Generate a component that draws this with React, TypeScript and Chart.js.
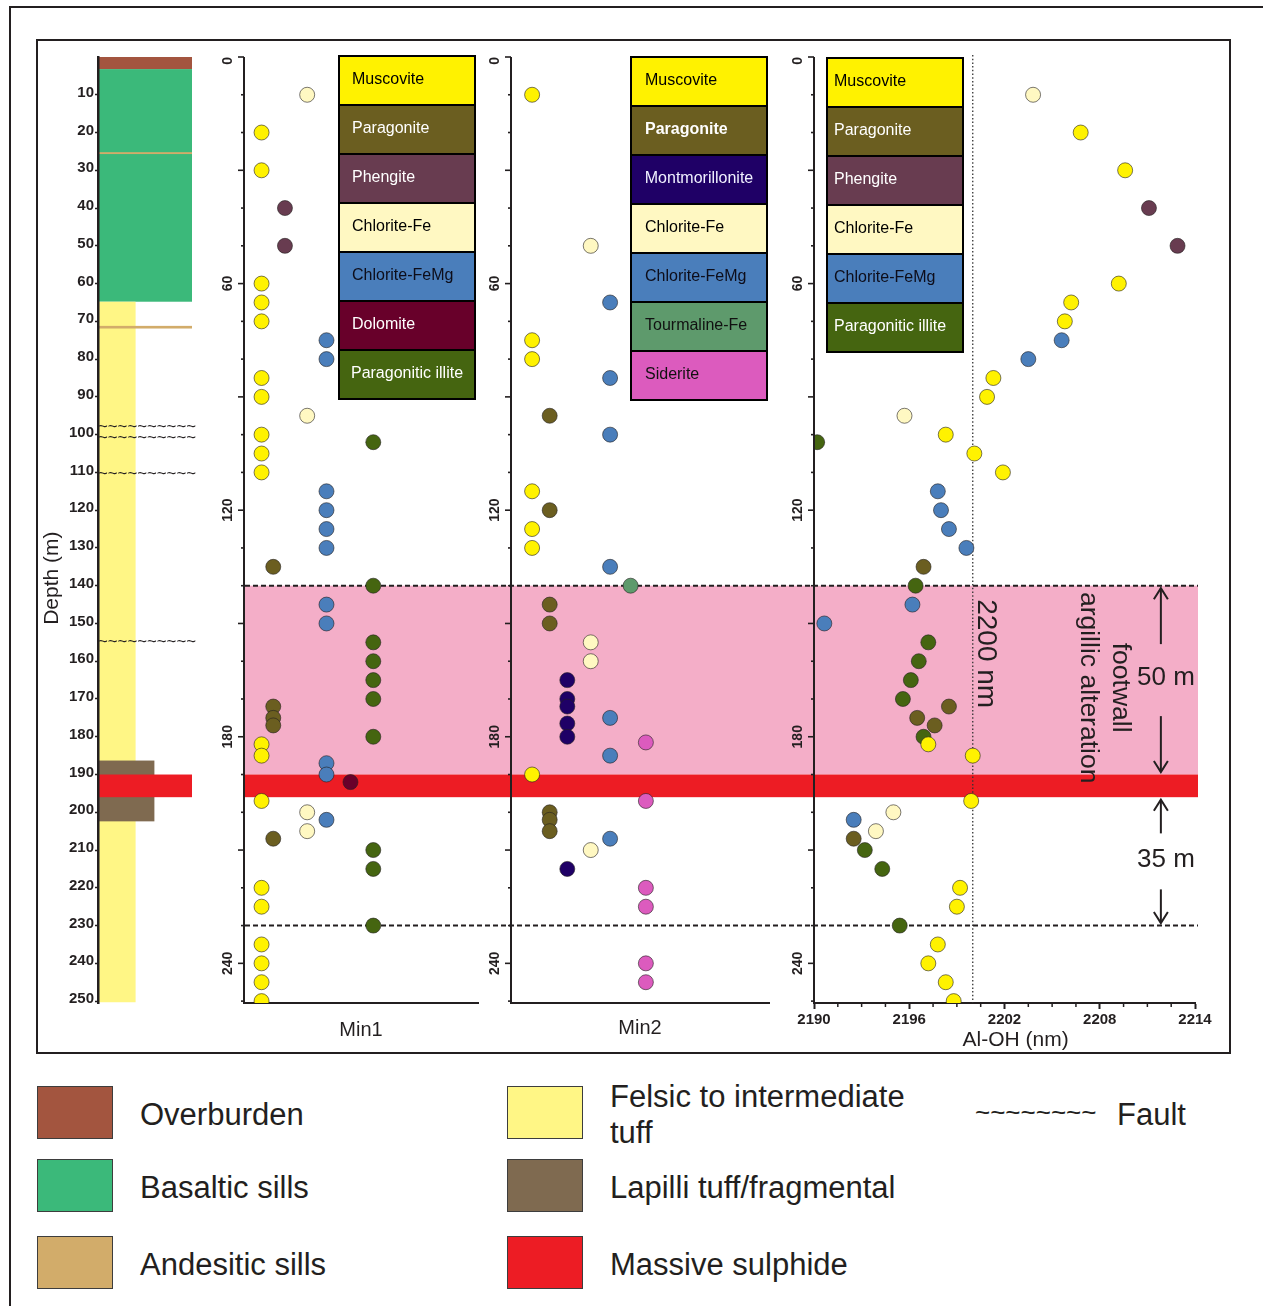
import React, { useEffect, useRef } from 'react';
import { Chart, registerables } from 'chart.js';

Chart.register(...registerables);

const INK = '#231f20';
const FONT = '"Liberation Sans", Arial, Helvetica, sans-serif';

// Depth axis (m), shared by the log and the three panels
const depthMin = 0;
const depthMax = 250.5;

// Lithological log intervals [top, bottom] in metres
const overburden = [0, 3.2];
const basalticSills = [3.2, 64.8];
const andesiticSills = [[25.2, 25.7], [71.2, 71.9]];
const felsicTuff = [64.8, 250.3];
const lapilliTuff = [186.3, 202.4];
const massiveSulphide = [190, 196];
const faults = [98, 101, 110.5, 155];

// Footwall argillic alteration zone and its limits (m)
const alterationZone = [140, 190];
const zoneBoundaries = [140, 230];
const thicknessSpans = [[140, 190], [196, 230]];
const thicknessLabels = ['50 m', '35 m'];

// Lithology key
const lithologyLabels = ['Overburden', 'Basaltic sills', 'Andesitic sills', 'Felsic to intermediate tuff', 'Lapilli tuff/fragmental', 'Massive sulphide'];
const lithologyColors = ['#a3553f', '#3bb97a', '#d2ac6a', '#fff685', '#7f6a50', '#ed1c24'];

const ZONE_PINK = '#f4aec8';
const SULPHIDE_RED = '#ed1c24';

// Mineral colours
const MINERAL_COLORS: Record<string, string> = {
  Muscovite: '#fff200',
  Paragonite: '#6b5e20',
  Phengite: '#683c50',
  'Chlorite-Fe': '#fff8c2',
  'Chlorite-FeMg': '#4a7ebb',
  Dolomite: '#68002a',
  'Paragonitic illite': '#456510',
  Montmorillonite: '#1f0066',
  'Tourmaline-Fe': '#5e9a6c',
  Siderite: '#dc5bbe',
};
const KEY_TEXT: Record<string, string> = {
  Muscovite: '#000',
  Paragonite: '#fff',
  Phengite: '#fff',
  'Chlorite-Fe': '#000',
  'Chlorite-FeMg': '#0d0d1a',
  Dolomite: '#fff',
  'Paragonitic illite': '#fff',
  Montmorillonite: '#f0f0ff',
  'Tourmaline-Fe': '#111',
  Siderite: '#111',
};

// ---- Min1: sample depths (m) per dominant mineral ----
const min1Minerals = ['Muscovite', 'Paragonite', 'Phengite', 'Chlorite-Fe', 'Chlorite-FeMg', 'Dolomite', 'Paragonitic illite'];
const min1Columns = [1.5, 2.5, 3.5, 5.4, 7.05, 9.1, 11.05];
const min1Muscovite = [20, 30, 60, 65, 70, 85, 90, 100, 105, 110, 182, 185, 197, 220, 225, 235, 240, 245, 250];
const min1Paragonite = [135, 172, 175, 177, 207];
const min1Phengite = [40, 50];
const min1ChloriteFe = [10, 95, 200, 205];
const min1ChloriteFeMg = [75, 80, 115, 120, 125, 130, 145, 150, 187, 190, 202];
const min1Dolomite = [192];
const min1ParagoniticIllite = [102, 140, 155, 160, 165, 170, 180, 210, 215, 230];

// ---- Min2: sample depths (m) per secondary mineral ----
const min2Minerals = ['Muscovite', 'Paragonite', 'Montmorillonite', 'Chlorite-Fe', 'Chlorite-FeMg', 'Tourmaline-Fe', 'Siderite'];
const min2Columns = [1.8, 3.3, 4.8, 6.8, 8.45, 10.2, 11.5];
const min2Muscovite = [10, 75, 80, 115, 125, 130, 190];
const min2Paragonite = [95, 120, 145, 150, 200, 202, 205];
const min2Montmorillonite = [165, 170, 172, 176.5, 180, 215];
const min2ChloriteFe = [50, 155, 160, 210];
const min2ChloriteFeMg = [65, 85, 100, 135, 175, 185, 207];
const min2TourmalineFe = [140];
const min2Siderite = [181.5, 197, 220, 225, 240, 245];

// ---- Al-OH absorption wavelength: [depth (m), wavelength (nm)] ----
const alohMinerals = ['Muscovite', 'Paragonite', 'Phengite', 'Chlorite-Fe', 'Chlorite-FeMg', 'Paragonitic illite'];
const alohMuscovite = [[20, 2206.8], [30, 2209.6], [60, 2209.2], [65, 2206.2], [70, 2205.8], [85, 2201.3], [90, 2200.9], [100, 2198.3], [105, 2200.1], [110, 2201.9], [182, 2197.2], [185, 2200.0], [197, 2199.9], [220, 2199.2], [225, 2199.0], [235, 2197.8], [240, 2197.2], [245, 2198.3], [250, 2198.8]];
const alohParagonite = [[135, 2196.9], [172, 2198.5], [175, 2196.5], [177, 2197.6], [207, 2192.5]];
const alohPhengite = [[40, 2211.1], [50, 2212.9]];
const alohChloriteFe = [[10, 2203.8], [95, 2195.7], [200, 2195.0], [205, 2193.9]];
const alohChloriteFeMg = [[75, 2205.6], [80, 2203.5], [115, 2197.8], [120, 2198.0], [125, 2198.5], [130, 2199.6], [145, 2196.2], [150, 2190.65], [202, 2192.5]];
const alohParagoniticIllite = [[102, 2190.2], [140, 2196.4], [155, 2197.2], [160, 2196.6], [165, 2196.1], [170, 2195.6], [180, 2196.9], [210, 2193.2], [215, 2194.3], [230, 2195.4]];
const alohMin = 2190;
const alohMax = 2214;
const alohLabelStep = 6;
const alohMinorStep = 1.5;
const alohTitle = 'Al-OH (nm)';
const referenceWavelength = 2200;
const referenceLabel = '2200 nm';
const zoneTitle = ['footwall', 'argillic alteration'];

const commonOptions = () => ({
  responsive: false,
  animation: false,
  devicePixelRatio: 1,
  events: [] as any[],
  plugins: { legend: { display: false }, tooltip: { enabled: false } },
});

const depthScale = () => ({ type: 'linear', reverse: true, min: depthMin, max: depthMax, display: false });

function pointSets(names: string[], points: { x: number; y: number }[][]) {
  return names.map((name, i) => ({
    label: name,
    data: points[i],
    pointRadius: 7.5,
    pointHoverRadius: 7.5,
    pointBorderWidth: 1,
    pointBackgroundColor: MINERAL_COLORS[name],
    pointBorderColor: 'rgba(35,31,32,0.6)',
    order: name === 'Muscovite' ? 0 : name === 'Paragonitic illite' ? 1 : 2,
  }));
}

function drawRotated(ctx: CanvasRenderingContext2D, text: string, x: number, y: number, angle: number, font: string) {
  ctx.save();
  ctx.translate(x, y);
  ctx.rotate(angle);
  ctx.font = font;
  ctx.textAlign = 'center';
  ctx.textBaseline = 'middle';
  ctx.fillText(text, 0, 0);
  ctx.restore();
}

// Depth axis of each panel: line, 10 m ticks (longer every 30 m), rotated labels every 60 m
function depthAxisPlugin() {
  return {
    id: 'depthAxis',
    afterDraw(chart: any) {
      const { ctx, chartArea: a } = chart;
      const y = chart.scales.y;
      ctx.save();
      ctx.strokeStyle = INK;
      ctx.lineWidth = 2;
      ctx.beginPath();
      ctx.moveTo(a.left, a.top);
      ctx.lineTo(a.left, a.bottom + 1);
      ctx.stroke();
      ctx.lineWidth = 1.6;
      for (let d = depthMin; d <= depthMax; d += 10) {
        const py = y.getPixelForValue(d);
        const len = d % 30 === 0 ? 6 : 3;
        ctx.beginPath();
        ctx.moveTo(a.left - len, py);
        ctx.lineTo(a.left, py);
        ctx.stroke();
      }
      ctx.fillStyle = INK;
      const font = `bold 14px ${FONT}`;
      ctx.font = font;
      for (let d = depthMin; d <= depthMax; d += 60) {
        const label = String(d);
        const half = ctx.measureText(label).width / 2;
        const py = Math.max(y.getPixelForValue(d), a.top + half);
        drawRotated(ctx, label, a.left - 16, py, -Math.PI / 2, font);
      }
      ctx.restore();
    },
  };
}

// Colour key boxed inside a panel
function keyPlugin(items: string[], dx: number, dy: number, inset: number, boldItems: string[] = []) {
  const width = 136;
  const rowH = 49;
  return {
    id: 'mineralKey',
    afterDraw(chart: any) {
      const { ctx, chartArea: a } = chart;
      const x0 = a.left + dx;
      const y0 = a.top + dy;
      ctx.save();
      items.forEach((name, i) => {
        ctx.fillStyle = MINERAL_COLORS[name];
        ctx.fillRect(x0, y0 + i * rowH, width, rowH);
      });
      ctx.strokeStyle = '#000';
      ctx.lineWidth = 2;
      items.forEach((_, i) => ctx.strokeRect(x0, y0 + i * rowH, width, rowH));
      ctx.textAlign = 'left';
      ctx.textBaseline = 'middle';
      items.forEach((name, i) => {
        ctx.font = `${boldItems.includes(name) ? 'bold ' : ''}16px ${FONT}`;
        const w = ctx.measureText(name).width;
        const ix = Math.min(inset, (width - w) / 2);
        ctx.fillStyle = KEY_TEXT[name];
        ctx.fillText(name, x0 + ix, y0 + i * rowH + rowH / 2 - 1);
      });
      ctx.restore();
    },
  };
}

// Alteration zone, massive sulphide band and zone limits across the panels
const bandPlugin = {
  id: 'alterationBands',
  beforeDraw(chart: any) {
    const { ctx, chartArea: a } = chart;
    const y = chart.scales.y;
    const band = (iv: number[], color: string) => {
      const t = y.getPixelForValue(iv[0]);
      const b = y.getPixelForValue(iv[1]);
      ctx.fillStyle = color;
      ctx.fillRect(a.left, t, a.right - a.left, b - t);
    };
    ctx.save();
    band(alterationZone, ZONE_PINK);
    band(massiveSulphide, SULPHIDE_RED);
    ctx.strokeStyle = INK;
    ctx.lineWidth = 2;
    ctx.setLineDash([5, 3]);
    zoneBoundaries.forEach((d) => {
      const py = y.getPixelForValue(d);
      ctx.beginPath();
      ctx.moveTo(a.left, py);
      ctx.lineTo(a.right, py);
      ctx.stroke();
    });
    ctx.restore();
  },
};

// Drill-hole log
const strataPlugin = {
  id: 'strataLog',
  beforeDraw(chart: any) {
    const { ctx } = chart;
    const { x, y } = chart.scales;
    const fill = (iv: number[], w: number, color: string) => {
      const t = y.getPixelForValue(iv[0]);
      const b = y.getPixelForValue(iv[1]);
      const l = x.getPixelForValue(0);
      ctx.fillStyle = color;
      ctx.fillRect(l, t, x.getPixelForValue(w) - l, b - t);
    };
    ctx.save();
    fill(overburden, 1, lithologyColors[0]);
    fill(basalticSills, 1, lithologyColors[1]);
    fill(felsicTuff, 0.4, lithologyColors[3]);
    andesiticSills.forEach((iv) => fill(iv, 1, lithologyColors[2]));
    fill(lapilliTuff, 0.6, lithologyColors[4]);
    fill(massiveSulphide, 1, lithologyColors[5]);
    ctx.restore();
  },
  afterDraw(chart: any) {
    const { ctx, chartArea: a } = chart;
    const y = chart.scales.y;
    ctx.save();
    ctx.fillStyle = INK;
    ctx.font = `17px ${FONT}`;
    ctx.textAlign = 'left';
    ctx.textBaseline = 'middle';
    faults.forEach((d) => ctx.fillText('~~~~~~~~~~', a.left, y.getPixelForValue(d), 98));
    drawRotated(ctx, 'Depth (m)', a.left - 46, y.getPixelForValue(138), -Math.PI / 2, `21px ${FONT}`);
    ctx.restore();
  },
};

// Al-OH panel: 2200 nm reference, minor ticks, axis title, zone annotations
const alohNotesPlugin = {
  id: 'alohNotes',
  beforeDatasetsDraw(chart: any) {
    const { ctx, chartArea: a } = chart;
    const x = chart.scales.x;
    const px = x.getPixelForValue(referenceWavelength);
    ctx.save();
    ctx.setLineDash([1.5, 2.2]);
    ctx.strokeStyle = '#333';
    ctx.lineWidth = 1.3;
    ctx.beginPath();
    ctx.moveTo(px, a.top - 2);
    ctx.lineTo(px, a.bottom);
    ctx.stroke();
    ctx.restore();
  },
  afterDraw(chart: any) {
    const { ctx, chartArea: a } = chart;
    const { x, y } = chart.scales;
    ctx.save();
    ctx.strokeStyle = INK;
    ctx.fillStyle = INK;
    ctx.lineWidth = 1.5;
    for (let v = alohMin; v <= alohMax + 1e-6; v += alohMinorStep) {
      if (Math.abs((v - alohMin) / alohLabelStep - Math.round((v - alohMin) / alohLabelStep)) < 1e-6) continue;
      const px = x.getPixelForValue(v);
      ctx.beginPath();
      ctx.moveTo(px, a.bottom);
      ctx.lineTo(px, a.bottom + 4);
      ctx.stroke();
    }
    drawRotated(ctx, alohTitle, x.getPixelForValue(2202.7), a.bottom + 37, 0, `21px ${FONT}`);
    drawRotated(ctx, referenceLabel, x.getPixelForValue(2200.8), y.getPixelForValue(158), Math.PI / 2, `28px ${FONT}`);
    drawRotated(ctx, zoneTitle[0], x.getPixelForValue(2209.3), y.getPixelForValue(167), Math.PI / 2, `26.5px ${FONT}`);
    drawRotated(ctx, zoneTitle[1], x.getPixelForValue(2207.25), y.getPixelForValue(167), Math.PI / 2, `26.5px ${FONT}`);

    const ax = x.getPixelForValue(2211.85);
    const gaps = [36, 28];
    ctx.lineWidth = 2;
    const arrow = (tail: number, tip: number) => {
      const dir = Math.sign(tip - tail);
      ctx.beginPath();
      ctx.moveTo(ax, tail);
      ctx.lineTo(ax, tip);
      ctx.stroke();
      ctx.beginPath();
      ctx.moveTo(ax - 7, tip - dir * 11);
      ctx.lineTo(ax, tip);
      ctx.lineTo(ax + 7, tip - dir * 11);
      ctx.stroke();
    };
    thicknessSpans.forEach((span, i) => {
      const top = y.getPixelForValue(span[0]) + 2.5;
      const bottom = y.getPixelForValue(span[1]) - 2.5;
      const mid = (y.getPixelForValue(span[0]) + y.getPixelForValue(span[1])) / 2;
      arrow(mid - gaps[i], top);
      arrow(mid + gaps[i], bottom);
      ctx.font = `26px ${FONT}`;
      ctx.textAlign = 'center';
      ctx.textBaseline = 'middle';
      ctx.fillText(thicknessLabels[i], x.getPixelForValue(2212.17), mid - 2);
    });
    ctx.restore();
  },
};

function mineralPanel(canvas: HTMLCanvasElement, names: string[], columns: number[], depths: number[][], xMax: number, title: string, titlePad: number, padL: number, padR: number, key: any) {
  const datasets = pointSets(names, depths.map((ds, i) => ds.map((d) => ({ x: columns[i], y: d }))));
  return new Chart(canvas, {
    type: 'scatter',
    data: { datasets },
    options: {
      ...commonOptions(),
      layout: { padding: { left: padL, right: padR, top: 17, bottom: 0 } },
      scales: {
        x: {
          type: 'linear',
          min: 0,
          max: xMax,
          position: 'bottom',
          afterFit: (s: any) => { s.height = 47; },
          border: { display: true, width: 2, color: INK },
          grid: { display: false },
          ticks: { display: false },
          title: { display: true, text: title, color: INK, font: { family: FONT, size: 20, lineHeight: 1 }, padding: { top: 0, bottom: titlePad } },
        },
        y: depthScale(),
      },
    } as any,
    plugins: [depthAxisPlugin(), key],
  });
}

export default function App() {
  const bandRef = useRef<HTMLCanvasElement>(null);
  const logRef = useRef<HTMLCanvasElement>(null);
  const min1Ref = useRef<HTMLCanvasElement>(null);
  const min2Ref = useRef<HTMLCanvasElement>(null);
  const alohRef = useRef<HTMLCanvasElement>(null);

  useEffect(() => {
    const charts: Chart[] = [];

    charts.push(new Chart(bandRef.current!, {
      type: 'scatter',
      data: { datasets: [] },
      options: {
        ...commonOptions(),
        layout: { padding: { left: 5, right: 7, top: 17, bottom: 47 } },
        scales: { x: { type: 'linear', min: 0, max: 1, display: false }, y: depthScale() },
      } as any,
      plugins: [bandPlugin],
    }));

    charts.push(new Chart(logRef.current!, {
      type: 'scatter',
      data: { datasets: [] },
      options: {
        ...commonOptions(),
        layout: { padding: { left: 0, right: 28, top: 17, bottom: 47 } },
        scales: {
          x: { type: 'linear', min: 0, max: 1, display: false },
          y: {
            type: 'linear',
            reverse: true,
            min: depthMin,
            max: depthMax,
            position: 'left',
            afterFit: (s: any) => { s.width = 58; },
            border: { display: true, color: INK, width: 2.5 },
            grid: {
              drawOnChartArea: false,
              drawTicks: true,
              tickLength: 3,
              tickWidth: 1.5,
              color: (c: any) => (c.tick && c.tick.value === 0 ? 'rgba(0,0,0,0)' : INK),
            },
            ticks: {
              stepSize: 10,
              includeBounds: false,
              autoSkip: false,
              padding: 1,
              labelOffset: -2,
              color: INK,
              font: { family: FONT, size: 15, weight: 'bold' },
              callback: (v: any) => (v === 0 ? '' : String(v)),
            },
          },
        },
      } as any,
      plugins: [strataPlugin],
    }));

    charts.push(mineralPanel(
      min1Ref.current!, min1Minerals, min1Columns,
      [min1Muscovite, min1Paragonite, min1Phengite, min1ChloriteFe, min1ChloriteFeMg, min1Dolomite, min1ParagoniticIllite],
      20, 'Min1', 10, 44, 22, keyPlugin(min1Minerals, 95, -1, 13),
    ));

    charts.push(mineralPanel(
      min2Ref.current!, min2Minerals, min2Columns,
      [min2Muscovite, min2Paragonite, min2Montmorillonite, min2ChloriteFe, min2ChloriteFeMg, min2TourmalineFe, min2Siderite],
      22, 'Min2', 12, 41, 21, keyPlugin(min2Minerals, 120, 0, 14, ['Paragonite']),
    ));

    const alohSeries = [alohMuscovite, alohParagonite, alohPhengite, alohChloriteFe, alohChloriteFeMg, alohParagoniticIllite];
    charts.push(new Chart(alohRef.current!, {
      type: 'scatter',
      data: { datasets: pointSets(alohMinerals, alohSeries.map((s) => s.map((p) => ({ x: p[1], y: p[0] })))) },
      options: {
        ...commonOptions(),
        layout: { padding: { left: 24, right: 45, top: 17, bottom: 0 } },
        scales: {
          x: {
            type: 'linear',
            min: alohMin,
            max: alohMax,
            position: 'bottom',
            afterFit: (s: any) => { s.height = 47; },
            border: { display: true, width: 2, color: INK },
            grid: { drawOnChartArea: false, drawTicks: true, tickLength: 6, tickWidth: 2, color: INK },
            ticks: {
              stepSize: alohLabelStep,
              autoSkip: false,
              maxRotation: 0,
              padding: 2,
              color: INK,
              font: { family: FONT, size: 15, weight: 'bold' },
              callback: (v: any) => String(v),
            },
          },
          y: depthScale(),
        },
      } as any,
      plugins: [alohNotesPlugin, depthAxisPlugin(), keyPlugin(alohMinerals, 13, 1, 7)],
    }));

    return () => charts.forEach((c) => c.destroy());
  }, []);

  const canvasStyle = (left: number): React.CSSProperties => ({ position: 'absolute', left, top: 40 });
  const rowTops = [1086, 1159, 1236];
  const swatchLeft = [37, 507];
  const textLeft = [140, 610];

  return (
    <div style={{ position: 'absolute', left: 0, top: 0, width: 1263, height: 1306, background: '#fff', overflow: 'hidden', fontFamily: FONT, color: INK }}>
      <div style={{ position: 'absolute', left: 9, top: 6, width: 1254, height: 2, background: INK }} />
      <div style={{ position: 'absolute', left: 9, top: 6, width: 2, height: 1300, background: INK }} />
      <div style={{ position: 'absolute', left: 36, top: 39, width: 1195, height: 1015, border: `2.5px solid ${INK}`, boxSizing: 'border-box' }} />

      <canvas ref={bandRef} width={965} height={1010} style={canvasStyle(240)} />
      <canvas ref={logRef} width={180} height={1010} style={canvasStyle(40)} />
      <canvas ref={min1Ref} width={300} height={1010} style={canvasStyle(200)} />
      <canvas ref={min2Ref} width={320} height={1010} style={canvasStyle(470)} />
      <canvas ref={alohRef} width={450} height={1010} style={canvasStyle(790)} />

      {lithologyLabels.map((label, i) => {
        const col = Math.floor(i / 3);
        const row = i % 3;
        return (
          <React.Fragment key={label}>
            <div style={{ position: 'absolute', left: swatchLeft[col], top: rowTops[row], width: 76, height: 53, background: lithologyColors[i], border: '1px solid #3d3d3d', boxSizing: 'border-box' }} />
            <div style={{ position: 'absolute', left: textLeft[col], top: rowTops[row] - 18, width: 330, height: 93, display: 'flex', alignItems: 'center', fontSize: 31, lineHeight: '36px' }}>
              {label}
            </div>
          </React.Fragment>
        );
      })}
      <div style={{ position: 'absolute', left: 975, top: 1094, height: 36, display: 'flex', alignItems: 'center', fontSize: 26 }}>~~~~~~~~</div>
      <div style={{ position: 'absolute', left: 1117, top: 1097, height: 36, display: 'flex', alignItems: 'center', fontSize: 31 }}>Fault</div>
    </div>
  );
}
